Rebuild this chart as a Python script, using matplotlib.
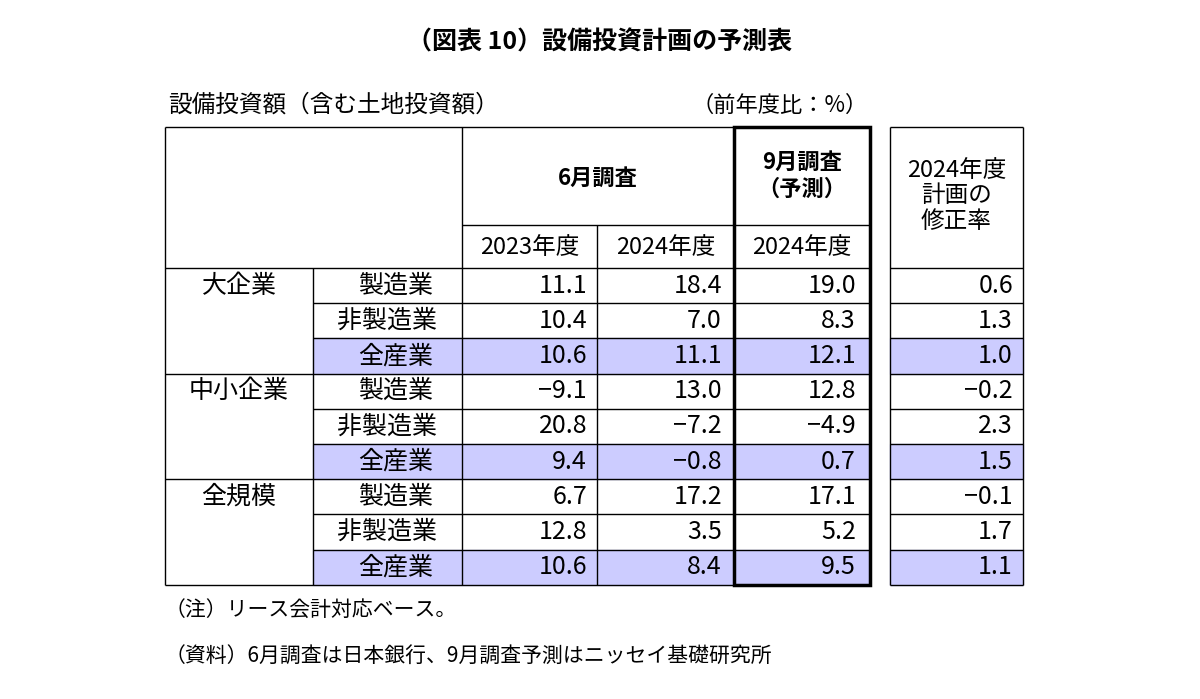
import matplotlib
matplotlib.use("Agg")
import matplotlib.pyplot as plt
from matplotlib.patches import Rectangle

plt.rcParams["font.family"] = "Noto Sans CJK JP"

title = "（図表 10）設備投資計画の予測表"
groups = ["大企業", "中小企業", "全規模"]
sectors = ["製造業", "非製造業", "全産業"]
jun_2023 = [11.1, 10.4, 10.6, -9.1, 20.8, 9.4, 6.7, 12.8, 10.6]
jun_2024 = [18.4, 7.0, 11.1, 13.0, -7.2, -0.8, 17.2, 3.5, 8.4]
sep_2024 = [19.0, 8.3, 12.1, 12.8, -4.9, 0.7, 17.1, 5.2, 9.5]
revision = [0.6, 1.3, 1.0, -0.2, 2.3, 1.5, -0.1, 1.7, 1.1]

W, H = 1200, 699
fig = plt.figure(figsize=(W/100, H/100), dpi=100)
ax = fig.add_axes([0, 0, 1, 1])
ax.set_xlim(0, W); ax.set_ylim(H, 0); ax.axis("off")

def line(x0, y0, x1, y1, lw=1.0):
    ax.plot([x0, x1], [y0, y1], color="black", lw=lw, solid_capstyle="butt")

def fmt(v):
    return f"{v:.1f}".replace("-", "−")

ax.text(600, 42, title, ha="center", va="center", fontsize=18, fontweight="bold")
ax.text(168, 105, "設備投資額（含む土地投資額）", ha="left", va="center", fontsize=17)
ax.text(868, 105, "（前年度比：%）", ha="right", va="center", fontsize=16)

xs = [165, 313, 462, 597, 734, 870]
rx = [890, 1023]
top, mid, hb = 127, 225, 268
rh = 35.2
rows_y = [hb + i*rh for i in range(10)]
fill = "#ccccff"

for i in range(9):
    y0 = rows_y[i]
    if i % 3 == 2:
        ax.add_patch(Rectangle((xs[1], y0), xs[5]-xs[1], rh, color=fill, zorder=0))
        ax.add_patch(Rectangle((rx[0], y0), rx[1]-rx[0], rh, color=fill, zorder=0))

line(xs[0], top, xs[5], top)
line(xs[2], mid, xs[5], mid)
line(xs[0], hb, xs[5], hb)
for i in range(1, 10):
    y = rows_y[i]
    if i % 3 == 0:
        line(xs[0], y, xs[5], y)
    else:
        line(xs[1], y, xs[5], y)
line(xs[0], top, xs[0], rows_y[9])
line(xs[1], hb, xs[1], rows_y[9])
line(xs[2], top, xs[2], rows_y[9])
line(xs[3], mid, xs[3], rows_y[9])
ax.add_patch(Rectangle((xs[4], top), xs[5]-xs[4], rows_y[9]-top, fill=False, lw=2.5, ec="black", zorder=3))
line(rx[0], top, rx[1], top)
line(rx[0], hb, rx[1], hb)
for i in range(1, 10):
    line(rx[0], rows_y[i], rx[1], rows_y[i])
line(rx[0], top, rx[0], rows_y[9]); line(rx[1], top, rx[1], rows_y[9])

fs = 18
ax.text((xs[2]+xs[4])/2, 178, "6月調査", ha="center", va="center", fontsize=16, fontweight="bold")
ax.text((xs[4]+xs[5])/2, 176, "9月調査\n（予測）", ha="center", va="center", fontsize=16, fontweight="bold", linespacing=1.2)
for j, x in enumerate([(xs[2]+xs[3])/2, (xs[3]+xs[4])/2, (xs[4]+xs[5])/2]):
    ax.text(x, 247, ["2023年度", "2024年度", "2024年度"][j], ha="center", va="center", fontsize=17)
ax.text((rx[0]+rx[1])/2, 196, "2024年度\n計画の\n修正率", ha="center", va="center", fontsize=17, linespacing=1.15)

for g in range(3):
    ax.text(239, rows_y[3*g] + rh/2, groups[g], ha="center", va="center", fontsize=fs)
for i in range(9):
    yc = rows_y[i] + rh/2
    s = sectors[i % 3]
    ax.text((xs[1]+xs[2])/2 + (8 if i % 3 != 1 else 0), yc, s, ha="center", va="center", fontsize=fs)
    ax.text(xs[3]-10, yc, fmt(jun_2023[i]), ha="right", va="center", fontsize=fs)
    ax.text(xs[4]-12, yc, fmt(jun_2024[i]), ha="right", va="center", fontsize=fs)
    ax.text(xs[5]-14, yc, fmt(sep_2024[i]), ha="right", va="center", fontsize=fs)
    ax.text(rx[1]-10, yc, fmt(revision[i]), ha="right", va="center", fontsize=fs)

ax.text(165, 610, "（注）リース会計対応ベース。", ha="left", va="center", fontsize=15)
ax.text(165, 656, "（資料）6月調査は日本銀行、9月調査予測はニッセイ基礎研究所", ha="left", va="center", fontsize=15)

fig.savefig("out.png", dpi=100)
